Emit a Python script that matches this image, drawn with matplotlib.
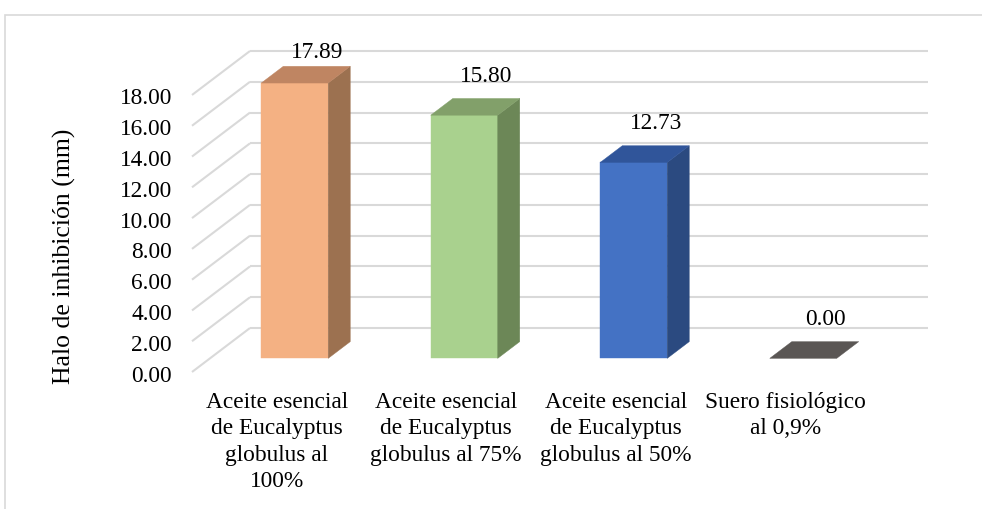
import matplotlib.pyplot as plt
import numpy as np
from matplotlib.patches import Rectangle

# datos
categorias = ["Aceite esencial\nde Eucalyptus\nglobulus al\n100%",
              "Aceite esencial\nde Eucalyptus\nglobulus al 75%",
              "Aceite esencial\nde Eucalyptus\nglobulus al 50%",
              "Suero fisiológico\nal 0,9%"]
valores = [17.89, 15.80, 12.73, 0.00]
ticks_y = np.arange(0, 19, 2)
eje_y = "Halo de inhibición (mm)"

color_frente = ["#F4B183", "#A9D18E", "#4472C4", "#5A5654"]
color_lado = ["#9C7150", "#6C8757", "#2B4A80", "#3E3B3A"]
color_tapa = ["#BF8562", "#82A06A", "#30559A", "#5A5654"]

plt.rcParams['font.family'] = ['Liberation Serif', 'DejaVu Serif']
FS = 16.8
GRIS = "#D9D9D9"

W, H = 982, 509
fig = plt.figure(figsize=(W / 100, H / 100), dpi=100)
ax = fig.add_axes([0, 0, 1, 1])
ax.axis("off")

# escala: categoria -> px horizontal, valor -> px vertical (plano frontal)
x0_px, cat_px = 192, 169.5
y0_px, unit_px = 372, 15.39
ax.set_xlim(-0.5 - x0_px / cat_px, -0.5 + (W - x0_px) / cat_px)
ax.set_ylim(-(H - y0_px) / unit_px, y0_px / unit_px)

def px_x(p):
    return -0.5 + (p - x0_px) / cat_px

def px_y(p):
    return (y0_px - p) / unit_px

# profundidad del suelo 3D
dx, dy = 58 / cat_px, 44 / unit_px
n = len(valores)

# rejilla: diagonales del lateral y lineas de la pared del fondo
for v in ticks_y:
    ax.plot([-0.5, -0.5 + dx], [v, v + dy], color=GRIS, lw=1.5, zorder=1,
            solid_capstyle="butt")
    ax.plot([-0.5 + dx, n - 0.5 + dx], [v + dy, v + dy], color=GRIS, lw=1.5,
            zorder=1, solid_capstyle="butt")
    ax.text(px_x(172), v - 4 / unit_px, f"{v:.2f}", ha="right", va="center",
            fontsize=FS)

# barras 3D
ancho = 0.395
f0, fp = 0.31, 0.38   # posicion y fondo de la barra dentro del suelo
for i, v in enumerate(valores):
    xl = i - ancho / 2 + f0 * dx
    xr = xl + ancho
    yb = f0 * dy
    yt = yb + v
    ddx, ddy = fp * dx, fp * dy
    if v > 0:
        ax.fill([xl, xr, xr, xl], [yb, yb, yt, yt], color=color_frente[i],
                lw=0.3, ec=color_frente[i], zorder=3)
        ax.fill([xr, xr + ddx, xr + ddx, xr], [yb, yb + ddy, yt + ddy, yt],
                color=color_lado[i], lw=0.3, ec=color_lado[i], zorder=3)
    ax.fill([xl, xr, xr + ddx, xl + ddx], [yt, yt, yt + ddy, yt + ddy],
            color=color_tapa[i], lw=0.3, ec=color_tapa[i], zorder=3)
    # etiqueta de valor
    ly = min(yt + ddy + 22 / unit_px, px_y(52))
    ax.text(i + f0 * dx + ddx, ly, f"{v:.2f}", ha="center", va="center",
            fontsize=FS, zorder=4)

# etiquetas de categoria
for i, c in enumerate(categorias):
    ax.text(i, px_y(392), c, ha="center", va="top", fontsize=FS,
            multialignment="center", linespacing=1.34)

ax.text(px_x(64), px_y(256), eje_y, rotation=90, ha="center", va="center",
        fontsize=18.5)

# borde del area del grafico
fig.add_artist(Rectangle((5 / W, -0.1), 1.2, (H - 15) / H + 0.1,
                         transform=fig.transFigure, fill=False, ec=GRIS, lw=1.2))

fig.savefig("out.png", dpi=100)
